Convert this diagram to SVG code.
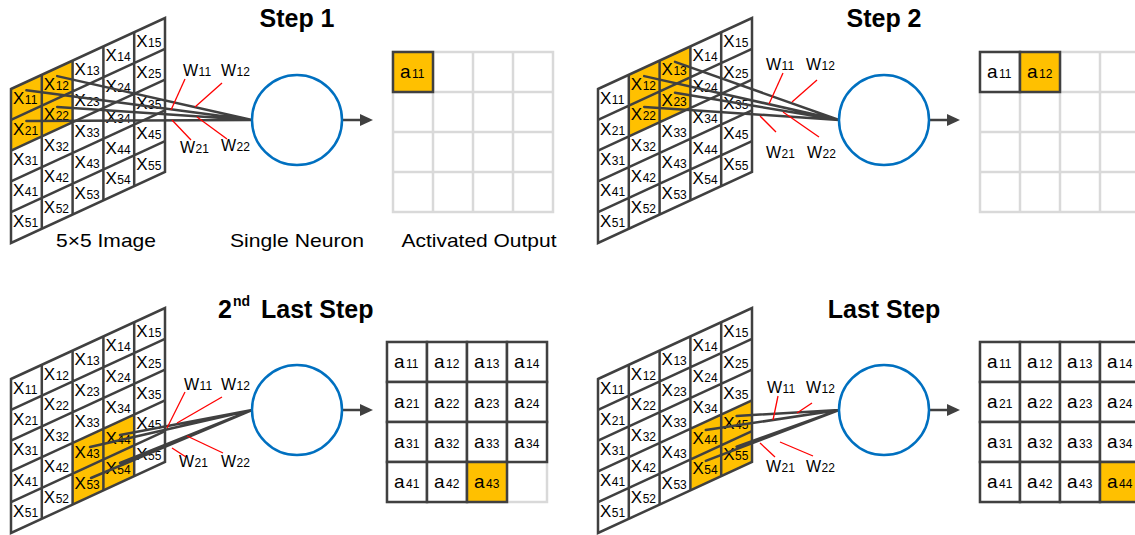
<svg xmlns="http://www.w3.org/2000/svg" xmlns:xlink="http://www.w3.org/1999/xlink" width="1135" height="535" viewBox="0 0 1135 535">
  <style>
    .bg { fill: #ffffff; }
    .lbl { font-family: "Liberation Sans", Arial, sans-serif; fill: #000000; }
    .x { font-size: 17px; }
    .w { font-size: 16px; }
    .a { font-size: 19px; }
    .sub { font-size: 12px; }
    .title { font-size: 25px; font-weight: bold; }
    .cap { font-size: 18.5px; }
    .grid { fill: none; stroke: #404040; stroke-width: 2.5; stroke-linejoin: miter; }
    .hl { fill: #FFC000; }
    .ogrid { fill: none; stroke: #D9D9D9; stroke-width: 2.5; }
    .ocell { fill: #ffffff; stroke: #404040; stroke-width: 2.5; }
    .ocell.on { fill: #FFC000; }
    .conn { fill: none; stroke: #404040; stroke-width: 2.5; stroke-linecap: round; }
    .wline { stroke: #FF0000; stroke-width: 1.3; }
    .neuron { fill: #ffffff; stroke: #0070C0; stroke-width: 2.5; }
  </style>
  <defs>
    <marker id="ah" markerUnits="userSpaceOnUse" markerWidth="14" markerHeight="12" refX="0" refY="6" orient="auto">
      <path d="M0,0 L13,6 L0,12 Z" fill="#404040"/>
    </marker>
    <!-- 5x5 input image drawn as a skewed grid, origin at its top-left corner -->
    <g id="xgrid">
      <polygon class="grid" points="0,0 154,-71 154,83 0,154"/>
      <path class="grid" d="M30.8,-14.2V139.8 M61.6,-28.4V125.6 M92.4,-42.6V111.4 M123.2,-56.8V97.2
                            M0,30.8L154,-40.2 M0,61.6L154,-9.4 M0,92.4L154,21.4 M0,123.2L154,52.2"/>
      <g class="lbl x">
        <text x="2" y="14.8">X<tspan class="sub" dx="0.5">11</tspan></text>
        <text x="2" y="45.6">X<tspan class="sub" dx="0.5">21</tspan></text>
        <text x="2" y="76.4">X<tspan class="sub" dx="0.5">31</tspan></text>
        <text x="2" y="107.2">X<tspan class="sub" dx="0.5">41</tspan></text>
        <text x="2" y="138">X<tspan class="sub" dx="0.5">51</tspan></text>
        <text x="32.8" y="0.6">X<tspan class="sub" dx="0.5">12</tspan></text>
        <text x="32.8" y="31.4">X<tspan class="sub" dx="0.5">22</tspan></text>
        <text x="32.8" y="62.2">X<tspan class="sub" dx="0.5">32</tspan></text>
        <text x="32.8" y="93">X<tspan class="sub" dx="0.5">42</tspan></text>
        <text x="32.8" y="123.8">X<tspan class="sub" dx="0.5">52</tspan></text>
        <text x="63.6" y="-13.6">X<tspan class="sub" dx="0.5">13</tspan></text>
        <text x="63.6" y="17.2">X<tspan class="sub" dx="0.5">23</tspan></text>
        <text x="63.6" y="48">X<tspan class="sub" dx="0.5">33</tspan></text>
        <text x="63.6" y="78.8">X<tspan class="sub" dx="0.5">43</tspan></text>
        <text x="63.6" y="109.6">X<tspan class="sub" dx="0.5">53</tspan></text>
        <text x="94.4" y="-27.8">X<tspan class="sub" dx="0.5">14</tspan></text>
        <text x="94.4" y="3">X<tspan class="sub" dx="0.5">24</tspan></text>
        <text x="94.4" y="33.8">X<tspan class="sub" dx="0.5">34</tspan></text>
        <text x="94.4" y="64.6">X<tspan class="sub" dx="0.5">44</tspan></text>
        <text x="94.4" y="95.4">X<tspan class="sub" dx="0.5">54</tspan></text>
        <text x="125.2" y="-42">X<tspan class="sub" dx="0.5">15</tspan></text>
        <text x="125.2" y="-11.2">X<tspan class="sub" dx="0.5">25</tspan></text>
        <text x="125.2" y="19.6">X<tspan class="sub" dx="0.5">35</tspan></text>
        <text x="125.2" y="50.4">X<tspan class="sub" dx="0.5">45</tspan></text>
        <text x="125.2" y="81.2">X<tspan class="sub" dx="0.5">55</tspan></text>
      </g>
    </g>
    <!-- empty 4x4 output grid, 40px cells -->
    <path id="ogrid" class="ogrid" d="M0,0H160V160H0Z M40,0V160 M80,0V160 M120,0V160 M0,40H160 M0,80H160 M0,120H160"/>
  </defs>

  <rect class="bg" x="0" y="0" width="1135" height="535"/>

  <!-- titles and captions -->
  <g id="titles" class="lbl">
    <text class="title" x="297" y="27" text-anchor="middle">Step 1</text>
    <text class="title" x="884" y="27" text-anchor="middle">Step 2</text>
    <text class="title" x="218" y="318">2<tspan font-size="14" x="233" y="306">nd</tspan><tspan x="261" y="318">Last Step</tspan></text>
    <text class="title" x="884" y="318" text-anchor="middle">Last Step</text>
    <text class="cap" x="106" y="247" text-anchor="middle" textLength="100" lengthAdjust="spacingAndGlyphs">5×5 Image</text>
    <text class="cap" x="297" y="247" text-anchor="middle" textLength="134" lengthAdjust="spacingAndGlyphs">Single Neuron</text>
    <text class="cap" x="479" y="247" text-anchor="middle" textLength="155" lengthAdjust="spacingAndGlyphs">Activated Output</text>
  </g>

  <!-- input images -->
  <g id="image-step1" transform="translate(11,89)">
    <polygon class="hl" points="0,0 61.6,-28.4 61.6,33.2 0,61.6"/>
    <use href="#xgrid" xlink:href="#xgrid"/>
  </g>
  <g id="image-step2" transform="translate(598,89)">
    <polygon class="hl" points="30.8,-14.2 92.4,-42.6 92.4,19 30.8,47.4"/>
    <use href="#xgrid" xlink:href="#xgrid"/>
  </g>
  <g id="image-2nd-last" transform="translate(11,379)">
    <polygon class="hl" points="61.6,64 123.2,35.6 123.2,97.2 61.6,125.6"/>
    <use href="#xgrid" xlink:href="#xgrid"/>
  </g>
  <g id="image-last" transform="translate(598,379)">
    <polygon class="hl" points="92.4,49.8 154,21.4 154,83 92.4,111.4"/>
    <use href="#xgrid" xlink:href="#xgrid"/>
  </g>

  <!-- activated outputs -->
  <g id="output-step1" transform="translate(393,52)">
    <use href="#ogrid" xlink:href="#ogrid"/>
    <rect class="ocell on" x="0" y="0" width="40" height="40"/>
    <text class="lbl a" x="7" y="25.5">a<tspan class="sub" dx="1.5">11</tspan></text>
  </g>
  <g id="output-step2" transform="translate(980,52)">
    <use href="#ogrid" xlink:href="#ogrid"/>
    <rect class="ocell" x="0" y="0" width="40" height="40"/>
    <rect class="ocell on" x="40" y="0" width="40" height="40"/>
    <g class="lbl a">
      <text x="7" y="25.5">a<tspan class="sub" dx="1.5">11</tspan></text>
      <text x="47" y="25.5">a<tspan class="sub" dx="1.5">12</tspan></text>
    </g>
  </g>
  <g id="output-2nd-last" transform="translate(387,342)">
    <use href="#ogrid" xlink:href="#ogrid"/>
    <g>
      <rect class="ocell" x="0" y="0" width="40" height="40"/>
      <rect class="ocell" x="40" y="0" width="40" height="40"/>
      <rect class="ocell" x="80" y="0" width="40" height="40"/>
      <rect class="ocell" x="120" y="0" width="40" height="40"/>
      <rect class="ocell" x="0" y="40" width="40" height="40"/>
      <rect class="ocell" x="40" y="40" width="40" height="40"/>
      <rect class="ocell" x="80" y="40" width="40" height="40"/>
      <rect class="ocell" x="120" y="40" width="40" height="40"/>
      <rect class="ocell" x="0" y="80" width="40" height="40"/>
      <rect class="ocell" x="40" y="80" width="40" height="40"/>
      <rect class="ocell" x="80" y="80" width="40" height="40"/>
      <rect class="ocell" x="120" y="80" width="40" height="40"/>
      <rect class="ocell" x="0" y="120" width="40" height="40"/>
      <rect class="ocell" x="40" y="120" width="40" height="40"/>
      <rect class="ocell on" x="80" y="120" width="40" height="40"/>
    </g>
    <g class="lbl a">
      <text x="7" y="25.5">a<tspan class="sub" dx="1.5">11</tspan></text>
      <text x="47" y="25.5">a<tspan class="sub" dx="1.5">12</tspan></text>
      <text x="87" y="25.5">a<tspan class="sub" dx="1.5">13</tspan></text>
      <text x="127" y="25.5">a<tspan class="sub" dx="1.5">14</tspan></text>
      <text x="7" y="65.5">a<tspan class="sub" dx="1.5">21</tspan></text>
      <text x="47" y="65.5">a<tspan class="sub" dx="1.5">22</tspan></text>
      <text x="87" y="65.5">a<tspan class="sub" dx="1.5">23</tspan></text>
      <text x="127" y="65.5">a<tspan class="sub" dx="1.5">24</tspan></text>
      <text x="7" y="105.5">a<tspan class="sub" dx="1.5">31</tspan></text>
      <text x="47" y="105.5">a<tspan class="sub" dx="1.5">32</tspan></text>
      <text x="87" y="105.5">a<tspan class="sub" dx="1.5">33</tspan></text>
      <text x="127" y="105.5">a<tspan class="sub" dx="1.5">34</tspan></text>
      <text x="7" y="145.5">a<tspan class="sub" dx="1.5">41</tspan></text>
      <text x="47" y="145.5">a<tspan class="sub" dx="1.5">42</tspan></text>
      <text x="87" y="145.5">a<tspan class="sub" dx="1.5">43</tspan></text>
    </g>
  </g>
  <g id="output-last" transform="translate(980,342)">
    <use href="#ogrid" xlink:href="#ogrid"/>
    <g>
      <rect class="ocell" x="0" y="0" width="40" height="40"/>
      <rect class="ocell" x="40" y="0" width="40" height="40"/>
      <rect class="ocell" x="80" y="0" width="40" height="40"/>
      <rect class="ocell" x="120" y="0" width="40" height="40"/>
      <rect class="ocell" x="0" y="40" width="40" height="40"/>
      <rect class="ocell" x="40" y="40" width="40" height="40"/>
      <rect class="ocell" x="80" y="40" width="40" height="40"/>
      <rect class="ocell" x="120" y="40" width="40" height="40"/>
      <rect class="ocell" x="0" y="80" width="40" height="40"/>
      <rect class="ocell" x="40" y="80" width="40" height="40"/>
      <rect class="ocell" x="80" y="80" width="40" height="40"/>
      <rect class="ocell" x="120" y="80" width="40" height="40"/>
      <rect class="ocell" x="0" y="120" width="40" height="40"/>
      <rect class="ocell" x="40" y="120" width="40" height="40"/>
      <rect class="ocell" x="80" y="120" width="40" height="40"/>
      <rect class="ocell on" x="120" y="120" width="40" height="40"/>
    </g>
    <g class="lbl a">
      <text x="7" y="25.5">a<tspan class="sub" dx="1.5">11</tspan></text>
      <text x="47" y="25.5">a<tspan class="sub" dx="1.5">12</tspan></text>
      <text x="87" y="25.5">a<tspan class="sub" dx="1.5">13</tspan></text>
      <text x="127" y="25.5">a<tspan class="sub" dx="1.5">14</tspan></text>
      <text x="7" y="65.5">a<tspan class="sub" dx="1.5">21</tspan></text>
      <text x="47" y="65.5">a<tspan class="sub" dx="1.5">22</tspan></text>
      <text x="87" y="65.5">a<tspan class="sub" dx="1.5">23</tspan></text>
      <text x="127" y="65.5">a<tspan class="sub" dx="1.5">24</tspan></text>
      <text x="7" y="105.5">a<tspan class="sub" dx="1.5">31</tspan></text>
      <text x="47" y="105.5">a<tspan class="sub" dx="1.5">32</tspan></text>
      <text x="87" y="105.5">a<tspan class="sub" dx="1.5">33</tspan></text>
      <text x="127" y="105.5">a<tspan class="sub" dx="1.5">34</tspan></text>
      <text x="7" y="145.5">a<tspan class="sub" dx="1.5">41</tspan></text>
      <text x="47" y="145.5">a<tspan class="sub" dx="1.5">42</tspan></text>
      <text x="87" y="145.5">a<tspan class="sub" dx="1.5">43</tspan></text>
      <text x="127" y="145.5">a<tspan class="sub" dx="1.5">44</tspan></text>
    </g>
  </g>

  <!-- connectors: receptive field to neuron, weight callouts, output arrows -->
  <g id="connectors">
    <g class="conn">
      <path d="M26.4,90.3L252,120 M57.2,76.1L252,120 M26.4,121.1L252,120 M57.2,106.9L252,120"/>
      <path d="M644.2,76.1L839,120 M675,61.9L839,120 M644.2,106.9L839,120 M675,92.7L839,120"/>
      <path d="M120,435L252,410 M90,447L252,410 M120,463L252,410 M91,478L252,410"/>
      <path d="M736.6,415.9L839,410 M705.8,430.1L839,410 M736.6,446.7L839,410 M705.8,460.9L839,410"/>
      <line x1="343" y1="120" x2="360" y2="120" marker-end="url(#ah)"/>
      <line x1="930" y1="120" x2="947" y2="120" marker-end="url(#ah)"/>
      <line x1="343" y1="410" x2="360" y2="410" marker-end="url(#ah)"/>
      <line x1="930" y1="410" x2="947" y2="410" marker-end="url(#ah)"/>
    </g>
    <g class="wline">
      <line x1="185" y1="79" x2="171" y2="110"/>
      <line x1="222" y1="83" x2="195" y2="107"/>
      <line x1="172" y1="120" x2="191" y2="140"/>
      <line x1="197" y1="117" x2="227" y2="139"/>

      <line x1="783" y1="73" x2="769" y2="104"/>
      <line x1="817" y1="80" x2="792" y2="102"/>
      <line x1="760" y1="116" x2="776" y2="132"/>
      <line x1="783" y1="112" x2="819" y2="137"/>

      <line x1="185" y1="392" x2="167" y2="428"/>
      <line x1="222" y1="397" x2="177" y2="423"/>
      <line x1="172" y1="448" x2="186" y2="457"/>
      <line x1="187" y1="436" x2="223" y2="453"/>

      <line x1="778" y1="396" x2="773" y2="420"/>
      <line x1="812" y1="403" x2="797" y2="413"/>
      <line x1="760" y1="443" x2="775" y2="457"/>
      <line x1="780" y1="442" x2="813" y2="456"/>
    </g>
    <g class="lbl w">
      <text x="183" y="76">W<tspan class="sub" dx="0.5">11</tspan></text>
      <text x="221" y="76">W<tspan class="sub" dx="0.5">12</tspan></text>
      <text x="180" y="153">W<tspan class="sub" dx="0.5">21</tspan></text>
      <text x="221" y="151">W<tspan class="sub" dx="0.5">22</tspan></text>

      <text x="766" y="70">W<tspan class="sub" dx="0.5">11</tspan></text>
      <text x="806" y="70">W<tspan class="sub" dx="0.5">12</tspan></text>
      <text x="766" y="158">W<tspan class="sub" dx="0.5">21</tspan></text>
      <text x="807" y="158">W<tspan class="sub" dx="0.5">22</tspan></text>

      <text x="184" y="390">W<tspan class="sub" dx="0.5">11</tspan></text>
      <text x="221" y="390">W<tspan class="sub" dx="0.5">12</tspan></text>
      <text x="179" y="467">W<tspan class="sub" dx="0.5">21</tspan></text>
      <text x="221" y="467">W<tspan class="sub" dx="0.5">22</tspan></text>

      <text x="767" y="393">W<tspan class="sub" dx="0.5">11</tspan></text>
      <text x="806" y="393">W<tspan class="sub" dx="0.5">12</tspan></text>
      <text x="766" y="472">W<tspan class="sub" dx="0.5">21</tspan></text>
      <text x="806" y="472">W<tspan class="sub" dx="0.5">22</tspan></text>
    </g>
  </g>

  <!-- neurons -->
  <g id="neuron-step1"><circle class="neuron" cx="297" cy="120" r="45"/></g>
  <g id="neuron-step2"><circle class="neuron" cx="884" cy="120" r="45"/></g>
  <g id="neuron-2nd-last"><circle class="neuron" cx="297" cy="410" r="45"/></g>
  <g id="neuron-last"><circle class="neuron" cx="884" cy="410" r="45"/></g>
</svg>
